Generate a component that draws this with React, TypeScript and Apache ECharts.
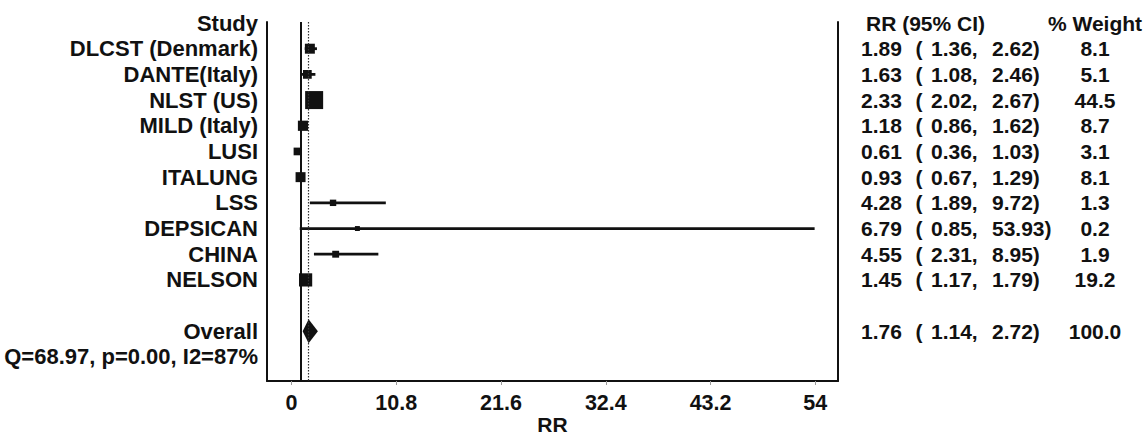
import React, { useEffect, useRef } from 'react';
import * as echarts from 'echarts';

const studies = [
  'DLCST (Denmark)',
  'DANTE(Italy)',
  'NLST (US)',
  'MILD (Italy)',
  'LUSI',
  'ITALUNG',
  'LSS',
  'DEPSICAN',
  'CHINA',
  'NELSON',
];
const rrValues = [1.89, 1.63, 2.33, 1.18, 0.61, 0.93, 4.28, 6.79, 4.55, 1.45];
const ciLow = [1.36, 1.08, 2.02, 0.86, 0.36, 0.67, 1.89, 0.85, 2.31, 1.17];
const ciHigh = [2.62, 2.46, 2.67, 1.62, 1.03, 1.29, 9.72, 53.93, 8.95, 1.79];
const weights = [8.1, 5.1, 44.5, 8.7, 3.1, 8.1, 1.3, 0.2, 1.9, 19.2];

const overallLabel = 'Overall';
const overallRR = 1.76;
const overallLow = 1.14;
const overallHigh = 2.72;
const overallWeight = 100.0;
const heterogeneity = 'Q=68.97, p=0.00, I2=87%';

const headerStudy = 'Study';
const headerRR = 'RR (95% CI)';
const headerWeight = '% Weight';
const axisName = 'RR';
const xTicks = [0, 10.8, 21.6, 32.4, 43.2, 54];
const nullValue = 1;

// row layout: 0 header, 1..10 studies, 11 blank, 12 overall, 13 heterogeneity
const rowLabels = [headerStudy, ...studies, '', overallLabel, heterogeneity];
const overallRow = studies.length + 2;

const FONT = '"Liberation Sans", Arial, Helvetica, sans-serif';
const INK = '#111111';

export default function App() {
  const ref = useRef<HTMLDivElement>(null);

  useEffect(() => {
    if (!ref.current) return;
    const chart = echarts.init(ref.current, undefined, { renderer: 'svg' });

    const forestData = studies.map((_, i) => [i + 1, rrValues[i], ciLow[i], ciHigh[i], weights[i]]);
    const textData: any[] = studies.map((_, i) => [
      i + 1,
      rrValues[i].toFixed(2),
      ciLow[i].toFixed(2),
      ciHigh[i].toFixed(2),
      weights[i].toFixed(1),
    ]);
    textData.push([overallRow, overallRR.toFixed(2), overallLow.toFixed(2), overallHigh.toFixed(2), overallWeight.toFixed(1)]);

    const colRR = 861;
    const colParen = 915.5;
    const colLo = 931;
    const colHi = 992;
    const colWeight = 1095;
    const textStyle = (text: string, x: number, y: number, align: string) => ({
      type: 'text',
      x,
      y,
      style: {
        text,
        fill: INK,
        fontSize: 21,
        fontWeight: 'bold',
        fontFamily: FONT,
        textAlign: align,
        textVerticalAlign: 'middle',
      },
    });

    const option: any = {
      animation: false,
      backgroundColor: '#ffffff',
      grid: { left: 267, right: 309, top: 22, bottom: 54, containLabel: false, outerBoundsMode: 'none' },
      xAxis: {
        type: 'value',
        min: -2.53,
        max: 56.34,
        name: axisName,
        nameLocation: 'middle',
        nameGap: 33,
        nameMoveOverlap: false,
        nameTextStyle: { color: INK, fontSize: 21, fontWeight: 'bold', fontFamily: FONT },
        splitLine: { show: false },
        axisLine: { show: true, onZero: false, lineStyle: { color: INK, width: 2 } },
        axisTick: { show: true, customValues: xTicks, length: 4, lineStyle: { color: '#999999', width: 1 } },
        axisLabel: {
          customValues: xTicks,
          margin: 11,
          color: INK,
          fontSize: 21.5,
          fontWeight: 'bold',
          fontFamily: FONT,
          formatter: (v: number) => String(Math.round(v * 10) / 10),
        },
      },
      yAxis: [
        {
          type: 'value',
          min: -0.039,
          max: 13.935,
          inverse: true,
          position: 'left',
          splitLine: { show: false },
          axisLine: { show: true, onZero: false, lineStyle: { color: INK, width: 2 } },
          axisTick: { show: false },
          axisLabel: {
            customValues: rowLabels.map((_, i) => i),
            margin: 9,
            color: INK,
            fontSize: 22,
            fontWeight: 'bold',
            fontFamily: FONT,
            formatter: (v: number) => rowLabels[Math.round(v)] || '',
          },
        },
        {
          type: 'value',
          min: -0.039,
          max: 13.935,
          inverse: true,
          position: 'right',
          splitLine: { show: false },
          axisLine: { show: true, onZero: false, lineStyle: { color: INK, width: 2 } },
          axisTick: { show: false },
          axisLabel: { show: false },
        },
      ],
      series: [
        {
          type: 'custom',
          name: 'studies',
          data: forestData,
          encode: { x: [1, 2, 3], y: 0 },
          clip: false,
          renderItem: (params: any, api: any) => {
            const row = api.value(0);
            const c = api.coord([api.value(1), row]);
            const l = api.coord([api.value(2), row]);
            const h = api.coord([api.value(3), row]);
            const size = 4 + 2.1 * Math.sqrt(api.value(4));
            return {
              type: 'group',
              children: [
                {
                  type: 'line',
                  shape: { x1: l[0], y1: l[1], x2: h[0], y2: h[1] },
                  style: { stroke: INK, lineWidth: 2.8 },
                },
                {
                  type: 'rect',
                  shape: { x: c[0] - size / 2, y: c[1] - size / 2, width: size, height: size },
                  style: { fill: INK },
                },
              ],
            };
          },
          markLine: {
            silent: true,
            symbol: 'none',
            label: { show: false },
            data: [
              { xAxis: nullValue, lineStyle: { color: INK, width: 2, type: 'solid' } },
              { xAxis: overallRR, lineStyle: { color: '#333333', width: 1.2, type: [1.5, 1.5] } },
            ],
          },
        },
        {
          type: 'custom',
          name: 'overall',
          data: [[overallRow, overallRR, overallLow, overallHigh]],
          encode: { x: [1, 2, 3], y: 0 },
          clip: false,
          renderItem: (params: any, api: any) => {
            const row = api.value(0);
            const c = api.coord([api.value(1), row]);
            const l = api.coord([api.value(2), row]);
            const h = api.coord([api.value(3), row]);
            const half = 12;
            return {
              type: 'polygon',
              shape: {
                points: [
                  [l[0], c[1]],
                  [c[0], c[1] - half],
                  [h[0], c[1]],
                  [c[0], c[1] + half],
                ],
              },
              style: { fill: INK },
            };
          },
        },
        {
          type: 'custom',
          name: 'header',
          data: [[0, 0]],
          encode: { x: 1, y: 0 },
          clip: false,
          silent: true,
          renderItem: (params: any, api: any) => {
            const y = api.coord([0, api.value(0)])[1];
            return {
              type: 'group',
              children: [
                textStyle(headerRR, colRR + 5, y, 'left'),
                textStyle(headerWeight, colWeight, y, 'center'),
              ],
            };
          },
        },
        {
          type: 'custom',
          name: 'columns',
          data: textData,
          encode: { y: 0 },
          clip: false,
          silent: true,
          renderItem: (params: any, api: any) => {
            const d = textData[params.dataIndex];
            const y = api.coord([0, d[0]])[1];
            return {
              type: 'group',
              children: [
                textStyle(d[1], colRR, y, 'left'),
                textStyle('(', colParen, y, 'left'),
                textStyle(d[2] + ',', colLo, y, 'left'),
                textStyle(d[3] + ')', colHi, y, 'left'),
                textStyle(d[4], colWeight, y, 'center'),
              ],
            };
          },
        },
      ],
    };

    chart.setOption(option);
    return () => chart.dispose();
  }, []);

  return (
    <div
      ref={ref}
      style={{ position: 'fixed', left: 0, top: 0, width: 1147, height: 435, background: '#fff' }}
    />
  );
}
